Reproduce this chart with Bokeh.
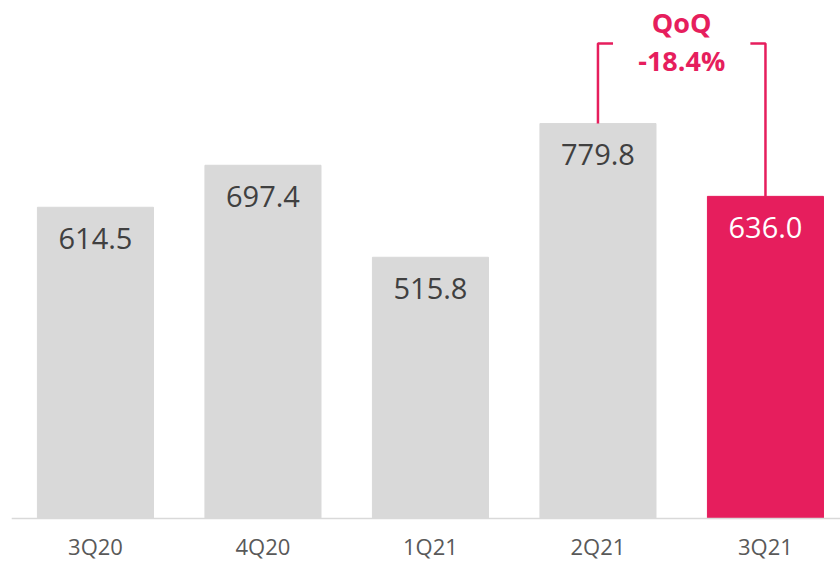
from bokeh.plotting import figure
from bokeh.models import Range1d, ColumnDataSource
from bokeh.core.properties import value
from bokeh.embed import file_html
from bokeh.resources import INLINE

categories = ["3Q20", "4Q20", "1Q21", "2Q21", "3Q21"]
values = [614.5, 697.4, 515.8, 779.8, 636.0]
value_labels = ["614.5", "697.4", "515.8", "779.8", "636.0"]
change_title = "QoQ"
change_label = "-18.4%"

GRAY = "#d9d9d9"
PINK = "#e61e5d"
xs = list(range(len(categories)))
colors = [GRAY] * (len(values) - 1) + [PINK]
text_colors = ["#404040"] * (len(values) - 1) + ["#ffffff"]

p = figure(width=840, height=563, output_backend="svg", toolbar_location=None,
           x_range=Range1d(-0.567, 4.448), y_range=Range1d(-88.8, 1022.7),
           min_border_left=0, min_border_right=0, min_border_top=0, min_border_bottom=0)
p.outline_line_color = None
p.grid.visible = False
p.axis.visible = False
p.background_fill_color = None
p.border_fill_color = None

src = ColumnDataSource(dict(x=xs, top=values, color=colors, lab=value_labels,
                            ly=[v - 62 for v in values], tc=text_colors,
                            cat=categories, cy=[-55] * len(xs)))
p.vbar(x="x", top="top", width=0.693, bottom=0, color="color", source=src)
p.text(x="x", y="ly", text="lab", text_color="tc", text_align="center",
       text_baseline="middle", text_font=value("Open Sans"), text_font_size="29px",
       source=src)
# category labels
p.text(x="x", y="cy", text="cat", text_color="#595959", text_align="center",
       text_baseline="middle", text_font=value("Open Sans"), text_font_size="22px",
       source=src)

# baseline
p.segment(x0=[-0.5], y0=[0], x1=[4.6], y1=[0], line_color=GRAY, line_width=1.5)

# bracket
top_y = 938
i0, i1 = len(values) - 2, len(values) - 1
arm = 0.09
p.line(x=[xs[i0], xs[i0], xs[i0] + arm], y=[values[i0], top_y, top_y], line_color=PINK, line_width=2.5)
p.line(x=[xs[i1] - arm, xs[i1], xs[i1]], y=[top_y, top_y, values[i1]], line_color=PINK, line_width=2.5)
mid = (xs[i0] + xs[i1]) / 2
p.text(x=[mid], y=[979], text=[change_title], text_color=PINK, text_align="center",
       text_baseline="middle", text_font=value("Open Sans"), text_font_style="bold",
       text_font_size="27px")
p.text(x=[mid], y=[904], text=[change_label], text_color=PINK, text_align="center",
       text_baseline="middle", text_font=value("Open Sans"), text_font_style="bold",
       text_font_size="27px")

open("out.html", "w").write(file_html(p, INLINE))
